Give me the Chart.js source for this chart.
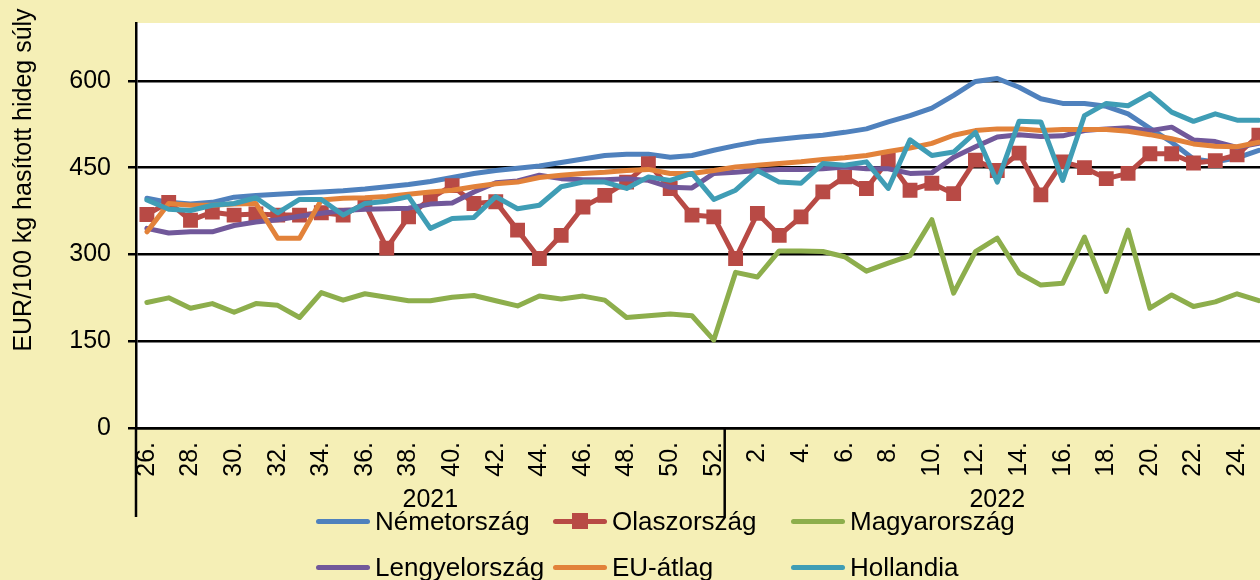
<!DOCTYPE html>
<html>
<head>
<meta charset="utf-8">
<script src="https://cdn.jsdelivr.net/npm/chart.js@4.4.0/dist/chart.umd.min.js"></script>
<style>
html, body { margin: 0; padding: 0; width: 1260px; height: 580px; overflow: hidden; background: #F5EFB6; font-family: 'Liberation Sans', Arial, sans-serif; }
#wrap { position: relative; width: 1303px; height: 580px; }
#legend { position: absolute; left: 316px; top: 498px; display: grid; grid-template-columns: 237px 238px auto; grid-auto-rows: 46px; }
.item { display: flex; align-items: center; font-size: 26px; color: #000; white-space: nowrap; }
.swatch { position: relative; width: 54px; height: 5px; border-radius: 3px; margin-right: 5px; }
.swatch .mark { position: absolute; left: 19px; top: -6px; width: 16px; height: 16px; }
</style>
</head>
<body>
<div id="wrap">
  <canvas id="chart" width="1303" height="580"></canvas>
  <div id="legend"></div>
</div>
<script>
// weeks shown on the category axis
const weeks2021 = ['26.','27.','28.','29.','30.','31.','32.','33.','34.','35.','36.','37.','38.','39.','40.',
    '41.','42.','43.','44.','45.','46.','47.','48.','49.','50.','51.','52.'];
const weeks2022 = ['1.','2.','3.','4.','5.','6.','7.','8.','9.','10.','11.','12.','13.',
    '14.','15.','16.','17.','18.','19.','20.','21.','22.','23.','24.','25.'];
const years = ['2021', '2022'];

// EUR/100 kg, weekly
const nemetorszag = [397,390,387,390,399,402,404,406,408,410,413,417,421,426,433,440,445,449,453,459,465,471,473,473,468,471,480,
    488,495,499,503,506,511,517,529,540,553,575,599,604,589,569,561,561,556,543,518,494,465,460,467,480];
const olaszorszag = [369,390,359,373,368,370,368,368,372,368,388,311,365,397,419,388,391,342,293,333,382,402,425,457,414,368,365,
    293,371,333,365,408,434,414,463,411,423,405,463,445,475,403,460,450,431,440,474,474,458,462,472,506];
const magyarorszag = [217,225,207,215,200,215,212,191,234,221,232,226,220,220,226,229,220,211,228,223,228,221,191,194,197,194,152,
    269,261,306,306,305,296,271,285,298,360,233,305,328,268,247,250,330,236,342,207,230,210,218,232,220];
const lengyelorszag = [345,337,339,339,350,356,360,366,371,376,378,379,380,387,389,408,424,427,437,431,429,429,431,428,416,415,440,
    442,445,447,447,448,451,448,448,440,441,468,486,503,507,504,505,514,517,519,514,520,498,495,485,492];
const euAtlag = [339,388,385,385,387,388,328,328,394,397,398,400,404,408,411,417,422,425,433,437,440,442,445,447,440,440,445,
    451,454,457,460,464,467,471,478,484,492,506,514,517,517,514,516,516,516,513,507,500,491,487,486,494];
const hollandia = [394,378,376,385,388,398,372,395,395,368,388,392,400,345,362,364,400,379,385,417,425,425,414,434,428,440,395,
    411,445,425,423,457,454,460,414,498,471,477,511,425,530,529,428,540,561,557,578,546,530,543,532,532];

const seriesNames = ['Németország', 'Olaszország', 'Magyarország', 'Lengyelország', 'EU-átlag', 'Hollandia'];
const seriesData = [nemetorszag, olaszorszag, magyarorszag, lengyelorszag, euAtlag, hollandia];
const seriesColors = ['#4F81BD', '#B84A45', '#8DAE4C', '#71589A', '#E2823A', '#3F9DB5'];

const yTitle = 'EUR/100 kg hasított hideg súly';
const allWeeks = weeks2021.concat(weeks2022);
const FONT = "'Liberation Sans', Arial, sans-serif";

const datasets = seriesNames.map(function(name, i) {
    const isItaly = i === 1;
    return {
        label: name,
        data: seriesData[i],
        borderColor: seriesColors[i],
        backgroundColor: seriesColors[i],
        borderWidth: 5,
        tension: 0,
        borderJoinStyle: 'round',
        borderCapStyle: 'round',
        pointStyle: 'rect',
        pointRadius: isItaly ? 10.5 : 0,
        pointBorderWidth: 0,
        pointBackgroundColor: seriesColors[i],
        order: seriesNames.length - i
    };
});

// white plot area, extra axis lines, year labels, rotated y title
const framePlugin = {
    id: 'frame',
    beforeDraw: function(chart) {
        const a = chart.chartArea;
        const ctx = chart.ctx;
        ctx.save();
        ctx.fillStyle = '#FFFFFF';
        ctx.fillRect(a.left, a.top, a.right - a.left, a.bottom - a.top);
        ctx.restore();
    },
    afterDraw: function(chart) {
        const a = chart.chartArea;
        const ctx = chart.ctx;
        const x = chart.scales.x;
        const n1 = weeks2021.length;
        const sep = (x.getPixelForValue(n1 - 1) + x.getPixelForValue(n1)) / 2;
        ctx.save();
        ctx.strokeStyle = '#000';
        ctx.lineWidth = 2.5;
        ctx.beginPath();
        ctx.moveTo(a.left, a.bottom);
        ctx.lineTo(a.left, 517);
        ctx.moveTo(sep, a.bottom);
        ctx.lineTo(sep, 516);
        ctx.stroke();

        ctx.fillStyle = '#000';
        ctx.font = '25px ' + FONT;
        ctx.textAlign = 'center';
        ctx.textBaseline = 'middle';
        const c1 = (x.getPixelForValue(0) + x.getPixelForValue(n1 - 1)) / 2;
        const c2 = (x.getPixelForValue(n1) + x.getPixelForValue(allWeeks.length - 1)) / 2;
        ctx.fillText(years[0], c1, 500);
        ctx.fillText(years[1], c2, 500);

        ctx.translate(24, 180);
        ctx.rotate(-Math.PI / 2);
        ctx.fillText(yTitle, 0, 0);
        ctx.restore();
    }
};

const config = {
    type: 'line',
    data: {
        labels: allWeeks,
        datasets: datasets
    },
    options: {
        responsive: false,
        animation: false,
        events: [],
        layout: { padding: { top: 23, right: 8, left: 0, bottom: 0 } },
        plugins: {
            legend: { display: false },
            tooltip: { enabled: false }
        },
        scales: {
            x: {
                offset: true,
                grid: { display: false, drawTicks: false },
                border: { display: true, color: '#000', width: 2.5 },
                ticks: {
                    autoSkip: false,
                    minRotation: 90,
                    maxRotation: 90,
                    padding: 14,
                    color: '#000',
                    font: { size: 25, family: FONT },
                    callback: function(value, index) {
                        return index % 2 === 0 ? this.getLabelForValue(value) : '';
                    }
                },
                afterFit: function(scale) { scale.height = 152; }
            },
            y: {
                min: 0,
                max: 700,
                grid: { color: '#000', lineWidth: 2.5, tickLength: 8, drawTicks: true },
                border: { display: true, color: '#000', width: 2.5 },
                ticks: {
                    stepSize: 150,
                    padding: 17,
                    color: '#000',
                    font: { size: 25, family: FONT }
                },
                afterBuildTicks: function(scale) {
                    scale.ticks = scale.ticks.filter(function(t) { return t.value <= 600; });
                },
                afterFit: function(scale) {
                    scale.width = 136;
                    scale.paddingTop = 0;
                    scale.paddingBottom = 0;
                }
            }
        }
    },
    plugins: [framePlugin]
};

const myChart = new Chart(document.getElementById('chart'), config);

// legend laid out in three columns like the original
const legendBox = document.getElementById('legend');
const legendOrder = [0, 1, 2, 3, 4, 5];
legendOrder.forEach(function(i) {
    const item = document.createElement('div');
    item.className = 'item';
    const sw = document.createElement('span');
    sw.className = 'swatch';
    sw.style.background = seriesColors[i];
    if (datasets[i].pointRadius > 0) {
        const mk = document.createElement('span');
        mk.className = 'mark';
        mk.style.background = seriesColors[i];
        sw.appendChild(mk);
    }
    const txt = document.createElement('span');
    txt.textContent = seriesNames[i];
    item.appendChild(sw);
    item.appendChild(txt);
    legendBox.appendChild(item);
});
</script>
</body>
</html>
